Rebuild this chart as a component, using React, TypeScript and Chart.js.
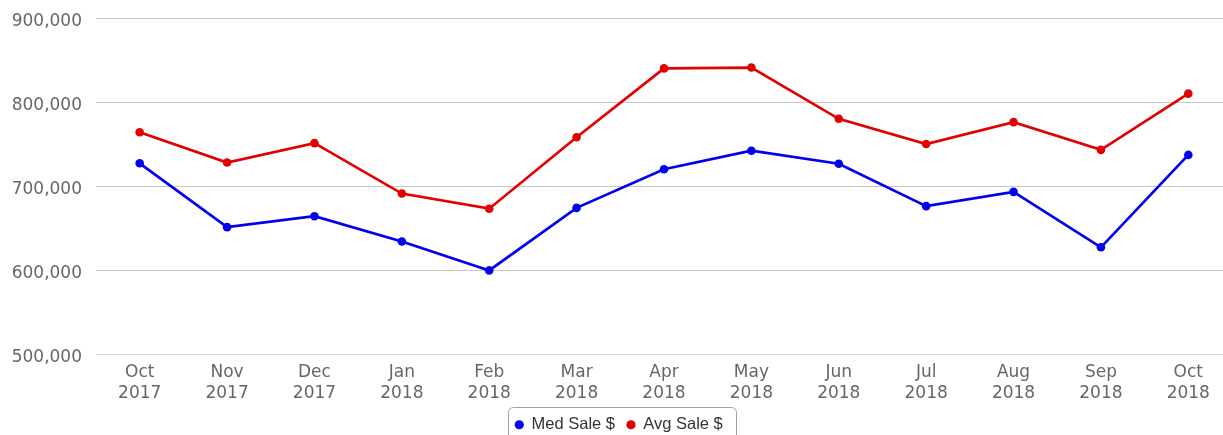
import React, { useEffect, useRef } from "react";
import { Chart, registerables } from "chart.js";

Chart.register(...registerables);

const monthLabels = ["Oct", "Nov", "Dec", "Jan", "Feb", "Mar", "Apr", "May", "Jun", "Jul", "Aug", "Sep", "Oct"];
const yearLabels = ["2017", "2017", "2017", "2018", "2018", "2018", "2018", "2018", "2018", "2018", "2018", "2018", "2018"];
const medSale = [727000, 651000, 664000, 634000, 599500, 674000, 720000, 742000, 726500, 676000, 693000, 627000, 737000];
const avgSale = [764000, 728000, 751000, 691000, 673000, 758000, 840000, 841000, 780000, 750000, 776000, 743000, 810000];
const yMin = 500000;
const yMax = 900000;
const yStep = 100000;

const BLUE = "#0000ee";
const RED = "#e20000";

export default function App() {
  const ref = useRef<HTMLCanvasElement>(null);

  useEffect(() => {
    if (!ref.current) return;
    const legendBox = {
      id: "legendBox",
      afterDraw(chart: any) {
        const lg = chart.legend;
        if (!lg || !lg.legendHitBoxes || !lg.legendHitBoxes.length) return;
        const hb = lg.legendHitBoxes;
        const l = Math.min(...hb.map((b: any) => b.left)) - 7;
        const r = Math.max(...hb.map((b: any) => b.left + b.width)) + 14;
        const t = hb[0].top - 10;
        const ctx = chart.ctx;
        ctx.save();
        ctx.strokeStyle = "#a0a0a0";
        ctx.lineWidth = 1;
        ctx.beginPath();
        ctx.roundRect(Math.round(l) + 0.5, Math.round(t) + 0.5, Math.round(r - l), 60, 5);
        ctx.stroke();
        ctx.restore();
      },
    };

    const labels = monthLabels.map((m, i) => [m, yearLabels[i]]);

    const chart = new Chart(ref.current, {
      type: "line",
      data: {
        labels,
        datasets: [
          {
            label: "Med Sale $",
            data: medSale,
            borderColor: BLUE,
            backgroundColor: BLUE,
            pointBackgroundColor: BLUE,
            pointBorderColor: BLUE,
            borderWidth: 2.7,
            pointRadius: 4.3,
            pointBorderWidth: 0,
            tension: 0,
          },
          {
            label: "Avg Sale $",
            data: avgSale,
            borderColor: RED,
            backgroundColor: RED,
            pointBackgroundColor: RED,
            pointBorderColor: RED,
            borderWidth: 2.7,
            pointRadius: 4.3,
            pointBorderWidth: 0,
            tension: 0,
          },
        ],
      },
      options: {
        responsive: false,
        animation: false,
        layout: { autoPadding: false, padding: { top: 18, left: 6, right: 0, bottom: 0 } },
        plugins: {
          tooltip: { enabled: false },
          legend: {
            position: "bottom",
            labels: {
              usePointStyle: true,
              pointStyle: "circle",
              boxWidth: 8,
              boxHeight: 6.5,
              padding: 12,
              color: "#333333",
              font: { family: "'Liberation Sans', Arial, sans-serif", size: 16.5 },
              generateLabels(chart: any) {
                const items = Chart.defaults.plugins.legend.labels.generateLabels(chart);
                return items.map((it: any) => ({ ...it, lineWidth: 0 }));
              },
            },
          },
        },
        scales: {
          x: {
            offset: true,
            afterFit(scale: any) {
              scale.height = 50.5;
            },
            grid: { color: "rgba(0,0,0,0)", drawTicks: false },
            border: { display: true, color: "#ccd6eb", width: 1 },
            ticks: {
              color: "#666666",
              font: { family: "'DejaVu Sans', sans-serif", size: 17, lineHeight: "21px" },
              padding: 8,
              maxRotation: 0,
              autoSkip: false,
            },
          },
          y: {
            min: yMin,
            max: yMax,
            afterFit(scale: any) {
              scale.width = 90;
              scale.paddingTop = 10;
              scale.paddingBottom = 10;
            },
            grid: {
              color: (c: any) => (c.tick && c.tick.value === yMin ? "rgba(0,0,0,0)" : "#c8c8c8"),
              drawTicks: false,
              lineWidth: 1,
            },
            border: { display: false },
            ticks: {
              stepSize: yStep,
              color: "#666666",
              font: { family: "'DejaVu Sans', sans-serif", size: 17 },
              padding: 14,
              labelOffset: 4,
              callback: (v: any) => Number(v).toLocaleString("en-US"),
            },
          },
        },
      },
      plugins: [legendBox],
    });
    return () => chart.destroy();
  }, []);

  return (
    <div
      style={{
        position: "absolute",
        left: 0,
        top: 0,
        width: 1223,
        height: 435,
        overflow: "hidden",
        background: "#ffffff",
      }}
    >
      <canvas ref={ref} width={1232} height={443} style={{ width: 1232, height: 443, display: "block" }} />
    </div>
  );
}
